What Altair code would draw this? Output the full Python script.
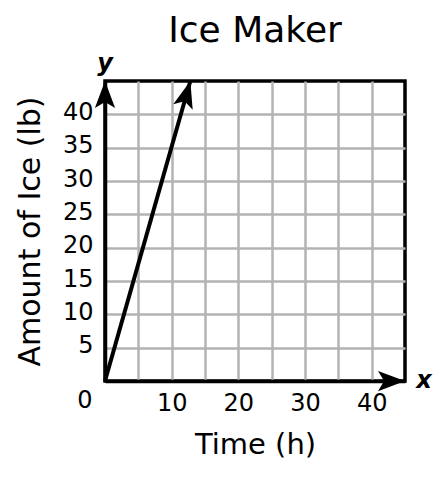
import math
import altair as alt
import pandas as pd

# ---- data ----
chart_title = "Ice Maker"
x_title = "Time (h)"
y_title = "Amount of Ice (lb)"
axis_max = 45
grid_values = [5, 10, 15, 20, 25, 30, 35, 40]
line_time = [0, 12.8]
line_ice = [0, 45]
origin_label = "0"

FONT = "DejaVu Sans"
W = 300
H = 300
LABEL_SIZE = 24

line_df = pd.DataFrame({"t": line_time, "ice": line_ice})
tip_df = pd.DataFrame({"t": [line_time[-1]], "ice": [line_ice[-1]]})
# direction of the data line in pixels (both axes span 0..axis_max over W/H px)
dx_px = (line_time[-1] - line_time[0]) / axis_max * W
dy_px = (line_ice[-1] - line_ice[0]) / axis_max * H
line_angle = math.degrees(math.atan2(dx_px, dy_px))

yaxis_tip = pd.DataFrame({"t": [0], "ice": [axis_max]})
xaxis_tip = pd.DataFrame({"t": [axis_max], "ice": [0]})
origin_df = pd.DataFrame({"t": [0], "ice": [0], "lab": [origin_label]})
ylab_df = pd.DataFrame({"t": [0], "ice": [axis_max], "lab": ["y"]})
xlab_df = pd.DataFrame({"t": [axis_max], "ice": [0], "lab": ["x"]})

xscale = alt.Scale(domain=[0, axis_max], nice=False, zero=True)
yscale = alt.Scale(domain=[0, axis_max], nice=False, zero=True)

GRID = "#b3b3b3"

xaxis = alt.Axis(
    values=grid_values,
    labelExpr="datum.value % 10 == 0 ? datum.label : ''",
    grid=True, gridColor=GRID, gridWidth=2.5, gridOpacity=1,
    ticks=False, tickSize=0,
    domainColor="black", domainWidth=3.5,
    labelFont=FONT, labelFontSize=LABEL_SIZE, labelColor="black", labelPadding=10,
    labelAngle=0,
    title=x_title, titleFont=FONT, titleFontSize=29, titleFontWeight="normal",
    titleColor="black", titleBaseline="alphabetic", titleX=W / 2, titleY=72,
    titleAlign="center",
)
yaxis = alt.Axis(
    values=grid_values,
    grid=True, gridColor=GRID, gridWidth=2.5, gridOpacity=1,
    ticks=False, tickSize=0,
    domainColor="black", domainWidth=3.5,
    labelFont=FONT, labelFontSize=LABEL_SIZE, labelColor="black", labelPadding=12,
    labelOffset=-2,
    title=y_title, titleFont=FONT, titleFontSize=30, titleFontWeight="normal",
    titleColor="black", titleBaseline="alphabetic", titleAngle=270,
    titleX=-66, titleY=H / 2, titleAlign="center",
)

arrow_path = "M0,0L0.75,2L0,1.55L-0.75,2Z"
ARROW_SIZE = 729

line = alt.Chart(line_df).mark_line(color="black", strokeWidth=4, strokeCap="butt").encode(
    x=alt.X("t:Q", scale=xscale, axis=xaxis),
    y=alt.Y("ice:Q", scale=yscale, axis=yaxis),
)

line_tip = alt.Chart(tip_df).mark_point(
    shape=arrow_path, filled=True, color="black", opacity=1,
    size=ARROW_SIZE, angle=line_angle, strokeWidth=0,
).encode(x=alt.X("t:Q", scale=xscale), y=alt.Y("ice:Q", scale=yscale))

y_tip = alt.Chart(yaxis_tip).mark_point(
    shape=arrow_path, filled=True, color="black", opacity=1,
    size=ARROW_SIZE, angle=0, strokeWidth=0,
).encode(x=alt.X("t:Q", scale=xscale), y=alt.Y("ice:Q", scale=yscale))

x_tip = alt.Chart(xaxis_tip).mark_point(
    shape=arrow_path, filled=True, color="black", opacity=1,
    size=ARROW_SIZE, angle=90, strokeWidth=0,
).encode(x=alt.X("t:Q", scale=xscale), y=alt.Y("ice:Q", scale=yscale))

origin_text = alt.Chart(origin_df).mark_text(
    font=FONT, fontSize=LABEL_SIZE, color="black", dx=-20, dy=20, baseline="middle", align="center",
).encode(x=alt.X("t:Q", scale=xscale), y=alt.Y("ice:Q", scale=yscale), text="lab:N")

y_letter = alt.Chart(ylab_df).mark_text(
    font=FONT, fontSize=24, fontStyle="italic", fontWeight="bold", color="black",
    dx=0, dy=-17, baseline="middle", align="center",
).encode(x=alt.X("t:Q", scale=xscale), y=alt.Y("ice:Q", scale=yscale), text="lab:N")

x_letter = alt.Chart(xlab_df).mark_text(
    font=FONT, fontSize=24, fontStyle="italic", fontWeight="bold", color="black",
    dx=19, dy=0, baseline="middle", align="center",
).encode(x=alt.X("t:Q", scale=xscale), y=alt.Y("ice:Q", scale=yscale), text="lab:N")

chart = alt.layer(
    line, line_tip, y_tip, x_tip, origin_text, y_letter, x_letter
).properties(
    width=W, height=H,
    background="white",
    title=alt.TitleParams(
        chart_title, font=FONT, fontSize=36, fontWeight="normal", color="black",
        anchor="middle", frame="group", baseline="alphabetic", offset=12, dy=38,
    ),
    autosize=alt.AutoSizeParams(type="none"),
    padding={"left": 97, "top": 73, "right": 35, "bottom": 97},
).configure_view(
    stroke="black", strokeWidth=3.5, fill="white",
)

chart.save("out.html", embed_options={"renderer": "svg", "actions": False})
